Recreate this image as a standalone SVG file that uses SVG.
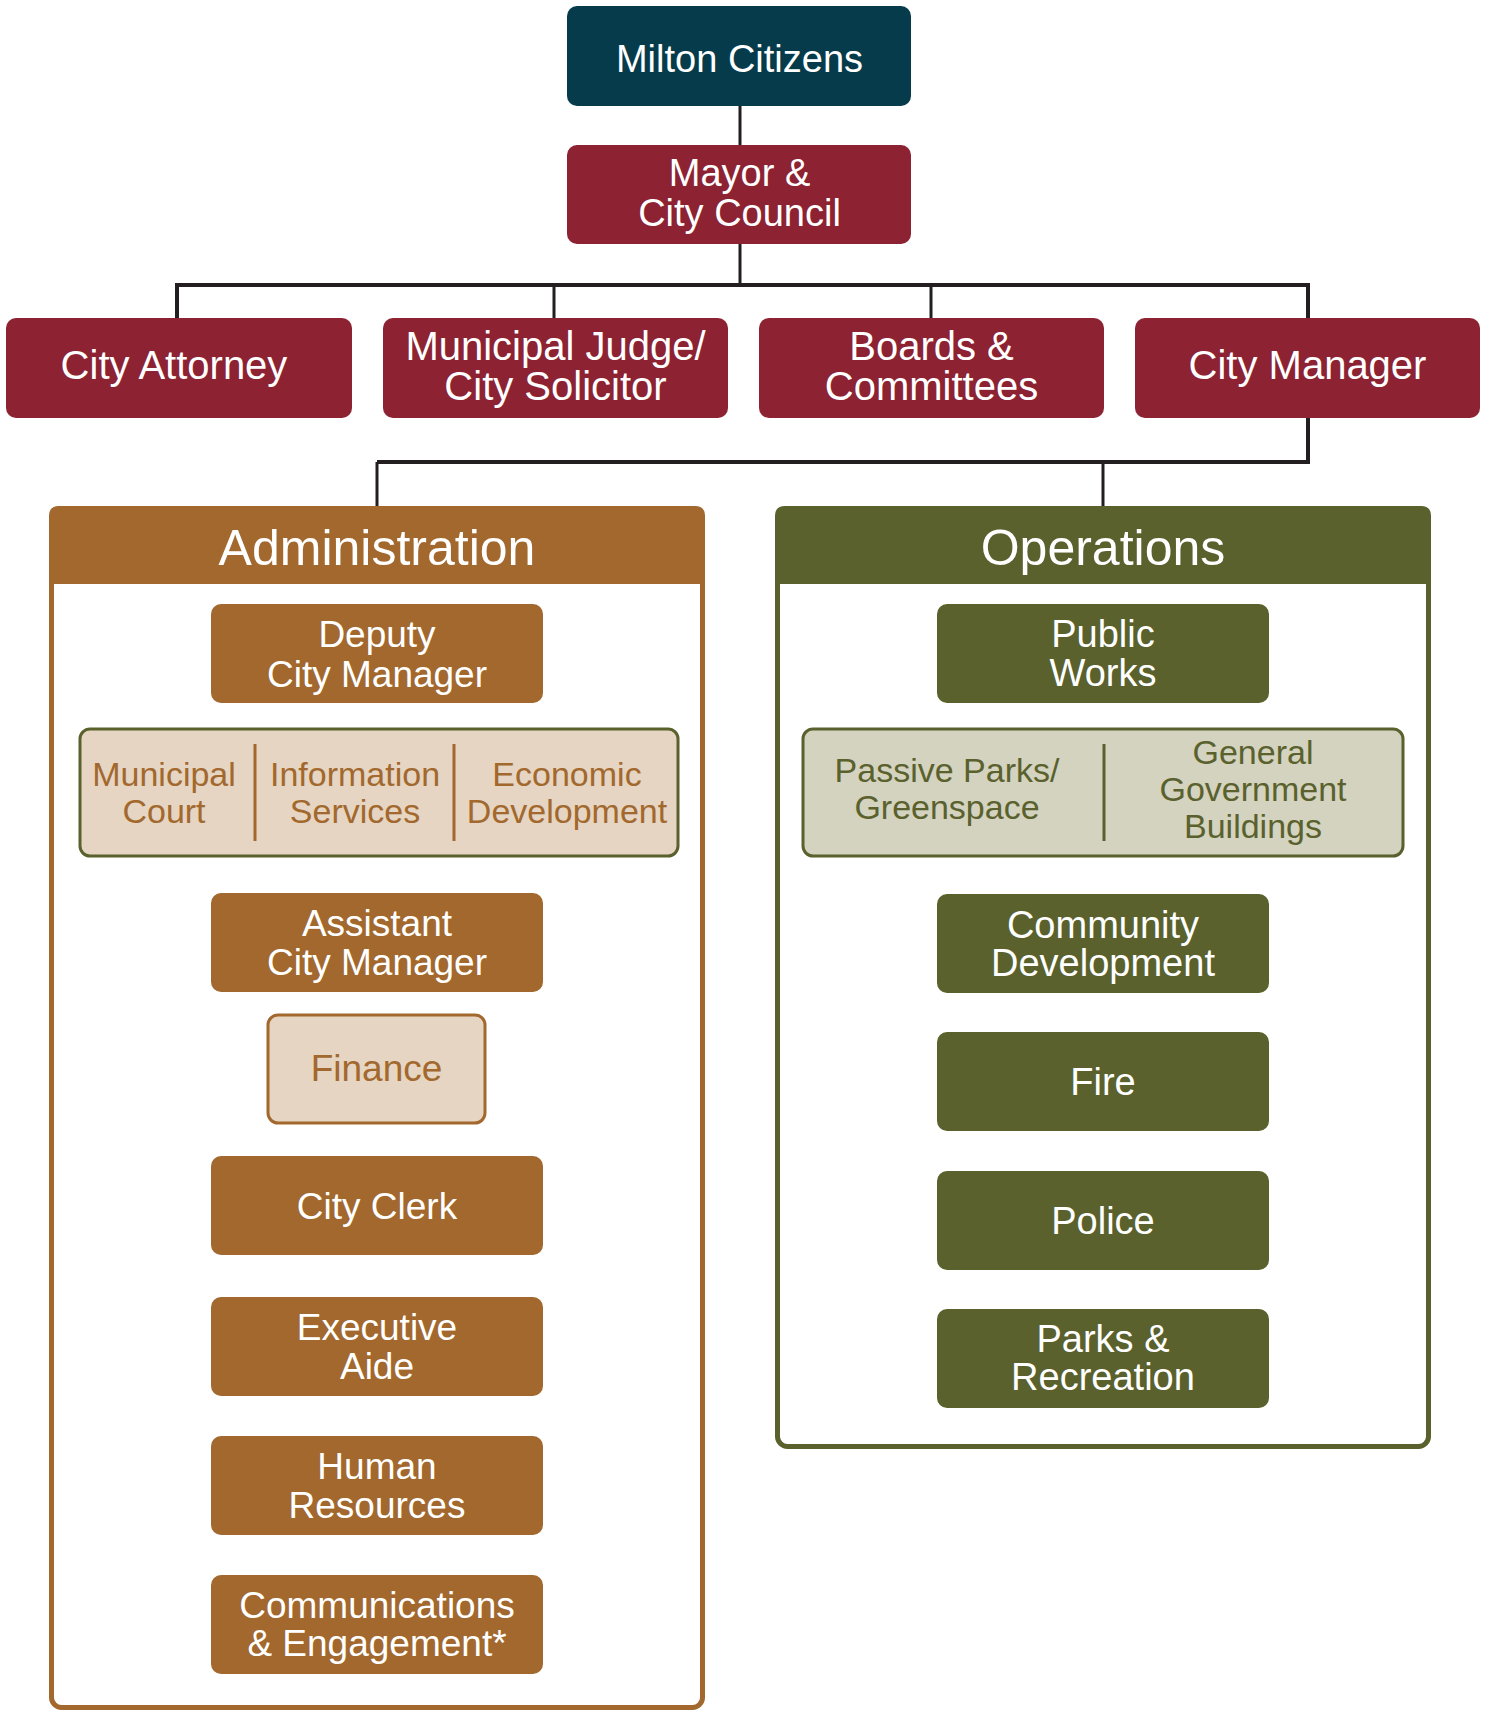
<svg xmlns="http://www.w3.org/2000/svg" width="1490" height="1712" viewBox="0 0 1490 1712">
<style>
text{font-family:"Liberation Sans",Arial,sans-serif;text-anchor:middle;}
.w{fill:#ffffff;}
.t40{font-size:40px;}
.t38{font-size:38px;}
.t37{font-size:37px;}
.t34{font-size:34px;}
.t50{font-size:50px;}
.teal{fill:#053B4A;}
.red{fill:#8C2232;}
.brown{fill:#A2682D;}
.olive{fill:#5A612D;}
.tan{fill:#E5D5C2;}
.ltolive{fill:#D3D3C0;}
.conn{stroke:#231F20;fill:none;}
</style>
<rect width="1490" height="1712" fill="#ffffff"/>
<g id="connectors">
<path class="conn" stroke-width="3" d="M740 106V145M740 244V285M554 285V318M931 285V318M377 462V506M1103 462V506"/>
<path class="conn" stroke-width="4" d="M177 318V285H1308V318M1308 418V462H377"/>
<path stroke="#A2682D" stroke-width="3" fill="none" d="M380 703V729M380 992V1015"/>
<path stroke="#5A612D" stroke-width="3" fill="none" d="M1104 703V729"/>
</g>
<g id="milton-citizens"><rect class="teal" x="567" y="6" width="344" height="100" rx="10"/><text class="w t38" x="739.5" y="72">Milton Citizens</text></g>
<g id="mayor-council"><rect class="red" x="567" y="145" width="344" height="99" rx="10"/><text class="w t38" x="739.5" y="186">Mayor &amp;</text><text class="w t38" x="739.5" y="226">City Council</text></g>
<g id="city-attorney"><rect class="red" x="6" y="318" width="346" height="100" rx="10"/><text class="w t40" x="174" y="379">City Attorney</text></g>
<g id="municipal-judge"><rect class="red" x="383" y="318" width="345" height="100" rx="10"/><text class="w t40" x="555.5" y="360">Municipal Judge/</text><text class="w t40" x="555.5" y="400">City Solicitor</text></g>
<g id="boards-committees"><rect class="red" x="759" y="318" width="345" height="100" rx="10"/><text class="w t40" x="931.5" y="360">Boards &amp;</text><text class="w t40" x="931.5" y="400">Committees</text></g>
<g id="city-manager"><rect class="red" x="1135" y="318" width="345" height="100" rx="10"/><text class="w t40" x="1307.5" y="379">City Manager</text></g>

<g id="administration">
<rect x="51.5" y="508.5" width="651" height="1199" rx="10" fill="#ffffff" stroke="#A2682D" stroke-width="5"/>
<path class="brown" d="M49 584V516Q49 506 59 506H695Q705 506 705 516V584Z"/>
<text class="w t50" x="377" y="565">Administration</text>
</g>
<g id="deputy-city-manager"><rect class="brown" x="211" y="604" width="332" height="99" rx="10"/><text class="w t37" x="377" y="647">Deputy</text><text class="w t37" x="377" y="687">City Manager</text></g>
<g id="admin-units">
<rect class="tan" x="80" y="729" width="598" height="127" rx="10" stroke="#5A612D" stroke-width="3"/>
<path stroke="#A2682D" stroke-width="3" d="M255 744V841M454 744V841"/>
<text class="brown t34" x="164" y="786">Municipal</text><text class="brown t34" x="164" y="823">Court</text>
<text class="brown t34" x="355" y="786">Information</text><text class="brown t34" x="355" y="823">Services</text>
<text class="brown t34" x="567" y="786">Economic</text><text class="brown t34" x="567" y="823">Development</text>
</g>
<g id="assistant-city-manager"><rect class="brown" x="211" y="893" width="332" height="99" rx="10"/><text class="w t37" x="377" y="936">Assistant</text><text class="w t37" x="377" y="975">City Manager</text></g>
<g id="finance"><rect class="tan" x="268" y="1015" width="217" height="108" rx="10" stroke="#A2682D" stroke-width="3"/><text class="brown t37" x="376.5" y="1081">Finance</text></g>
<g id="city-clerk"><rect class="brown" x="211" y="1156" width="332" height="99" rx="10"/><text class="w t37" x="377" y="1219">City Clerk</text></g>
<g id="executive-aide"><rect class="brown" x="211" y="1297" width="332" height="99" rx="10"/><text class="w t37" x="377" y="1340">Executive</text><text class="w t37" x="377" y="1379">Aide</text></g>
<g id="human-resources"><rect class="brown" x="211" y="1436" width="332" height="99" rx="10"/><text class="w t37" x="377" y="1479">Human</text><text class="w t37" x="377" y="1518">Resources</text></g>
<g id="communications"><rect class="brown" x="211" y="1575" width="332" height="99" rx="10"/><text class="w t37" x="377" y="1618">Communications</text><text class="w t37" x="377" y="1656">&amp; Engagement*</text></g>

<g id="operations">
<rect x="777.5" y="508.5" width="651" height="938" rx="10" fill="#ffffff" stroke="#5A612D" stroke-width="5"/>
<path class="olive" d="M775 584V516Q775 506 785 506H1421Q1431 506 1431 516V584Z"/>
<text class="w t50" x="1103" y="565">Operations</text>
</g>
<g id="public-works"><rect class="olive" x="937" y="604" width="332" height="99" rx="10"/><text class="w t38" x="1103" y="647">Public</text><text class="w t38" x="1103" y="686">Works</text></g>
<g id="ops-units">
<rect class="ltolive" x="803" y="729" width="600" height="127" rx="10" stroke="#5A612D" stroke-width="3"/>
<path stroke="#5A612D" stroke-width="3" d="M1104 744V841"/>
<text class="olive t34" x="947" y="782">Passive Parks/</text><text class="olive t34" x="947" y="819">Greenspace</text>
<text class="olive t34" x="1253" y="764">General</text><text class="olive t34" x="1253" y="801">Government</text><text class="olive t34" x="1253" y="838">Buildings</text>
</g>
<g id="community-development"><rect class="olive" x="937" y="894" width="332" height="99" rx="10"/><text class="w t38" x="1103" y="938">Community</text><text class="w t38" x="1103" y="976">Development</text></g>
<g id="fire"><rect class="olive" x="937" y="1032" width="332" height="99" rx="10"/><text class="w t38" x="1103" y="1095">Fire</text></g>
<g id="police"><rect class="olive" x="937" y="1171" width="332" height="99" rx="10"/><text class="w t38" x="1103" y="1234">Police</text></g>
<g id="parks-recreation"><rect class="olive" x="937" y="1309" width="332" height="99" rx="10"/><text class="w t38" x="1103" y="1352">Parks &amp;</text><text class="w t38" x="1103" y="1390">Recreation</text></g>
</svg>
